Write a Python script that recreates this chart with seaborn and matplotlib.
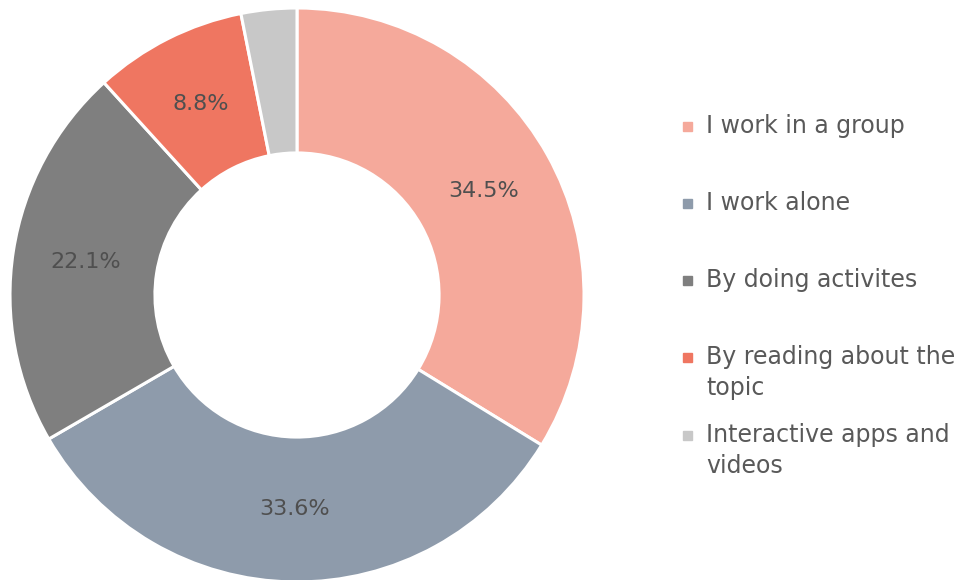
import matplotlib
matplotlib.use("Agg")
import matplotlib.pyplot as plt
import numpy as np
import seaborn as sns

# Survey: preferred ways of learning
categories = ["I work in a group", "I work alone", "By doing activites",
              "By reading about the\ntopic", "Interactive apps and\nvideos"]
values = [34.5, 33.6, 22.1, 8.8, 3.2]
value_labels = ["34.5%", "33.6%", "22.1%", "8.8%", ""]
colors = ["#F5A99B", "#8E9BAB", "#7F7F7F", "#EF7661", "#C8C8C8"]

sns.set_theme(style="white")
plt.rcParams["font.family"] = ["DejaVu Sans"]

W, H = 976, 580
fig = plt.figure(figsize=(W / 100, H / 100), dpi=100)

# donut centred at (297, 295) px with outer radius 287 px
cx, cy, r = 297, 295, 287
ax = fig.add_axes([(cx - r) / W, (H - cy - r) / H, 2 * r / W, 2 * r / H])
palette = sns.color_palette(colors)

ax.pie(values, colors=palette, startangle=90, counterclock=False, radius=1.0,
       wedgeprops=dict(width=0.505, edgecolor="white", linewidth=2.2))
ax.set_xlim(-1, 1)
ax.set_ylim(-1, 1)
ax.set_aspect("equal")
ax.axis("off")

# percentage labels in the middle of each ring segment
total = sum(values)
start = 90.0
for v, lab in zip(values, value_labels):
    span = 360.0 * v / total
    mid = np.deg2rad(start - span / 2)
    start -= span
    if lab:
        ax.text(0.745 * np.cos(mid), 0.745 * np.sin(mid), lab,
                ha="center", va="center", fontsize=16, color="#4F4F4F")

# legend entries: square swatch plus label (wrapped lines 31 px apart)
legend_y = [126, 203, 280, 357, 435]
for col, cat, y in zip(palette, categories, legend_y):
    fig.patches.append(plt.Rectangle((683 / W, (H - y - 4.5) / H), 9 / W, 9 / H,
                                     transform=fig.transFigure, color=col,
                                     figure=fig))
    for i, line in enumerate(cat.split("\n")):
        fig.text(706 / W, (H - y - 31 * i) / H, line, ha="left", va="center",
                 fontsize=17, color="#595959")

fig.savefig("out.png", dpi=100, facecolor="white")
